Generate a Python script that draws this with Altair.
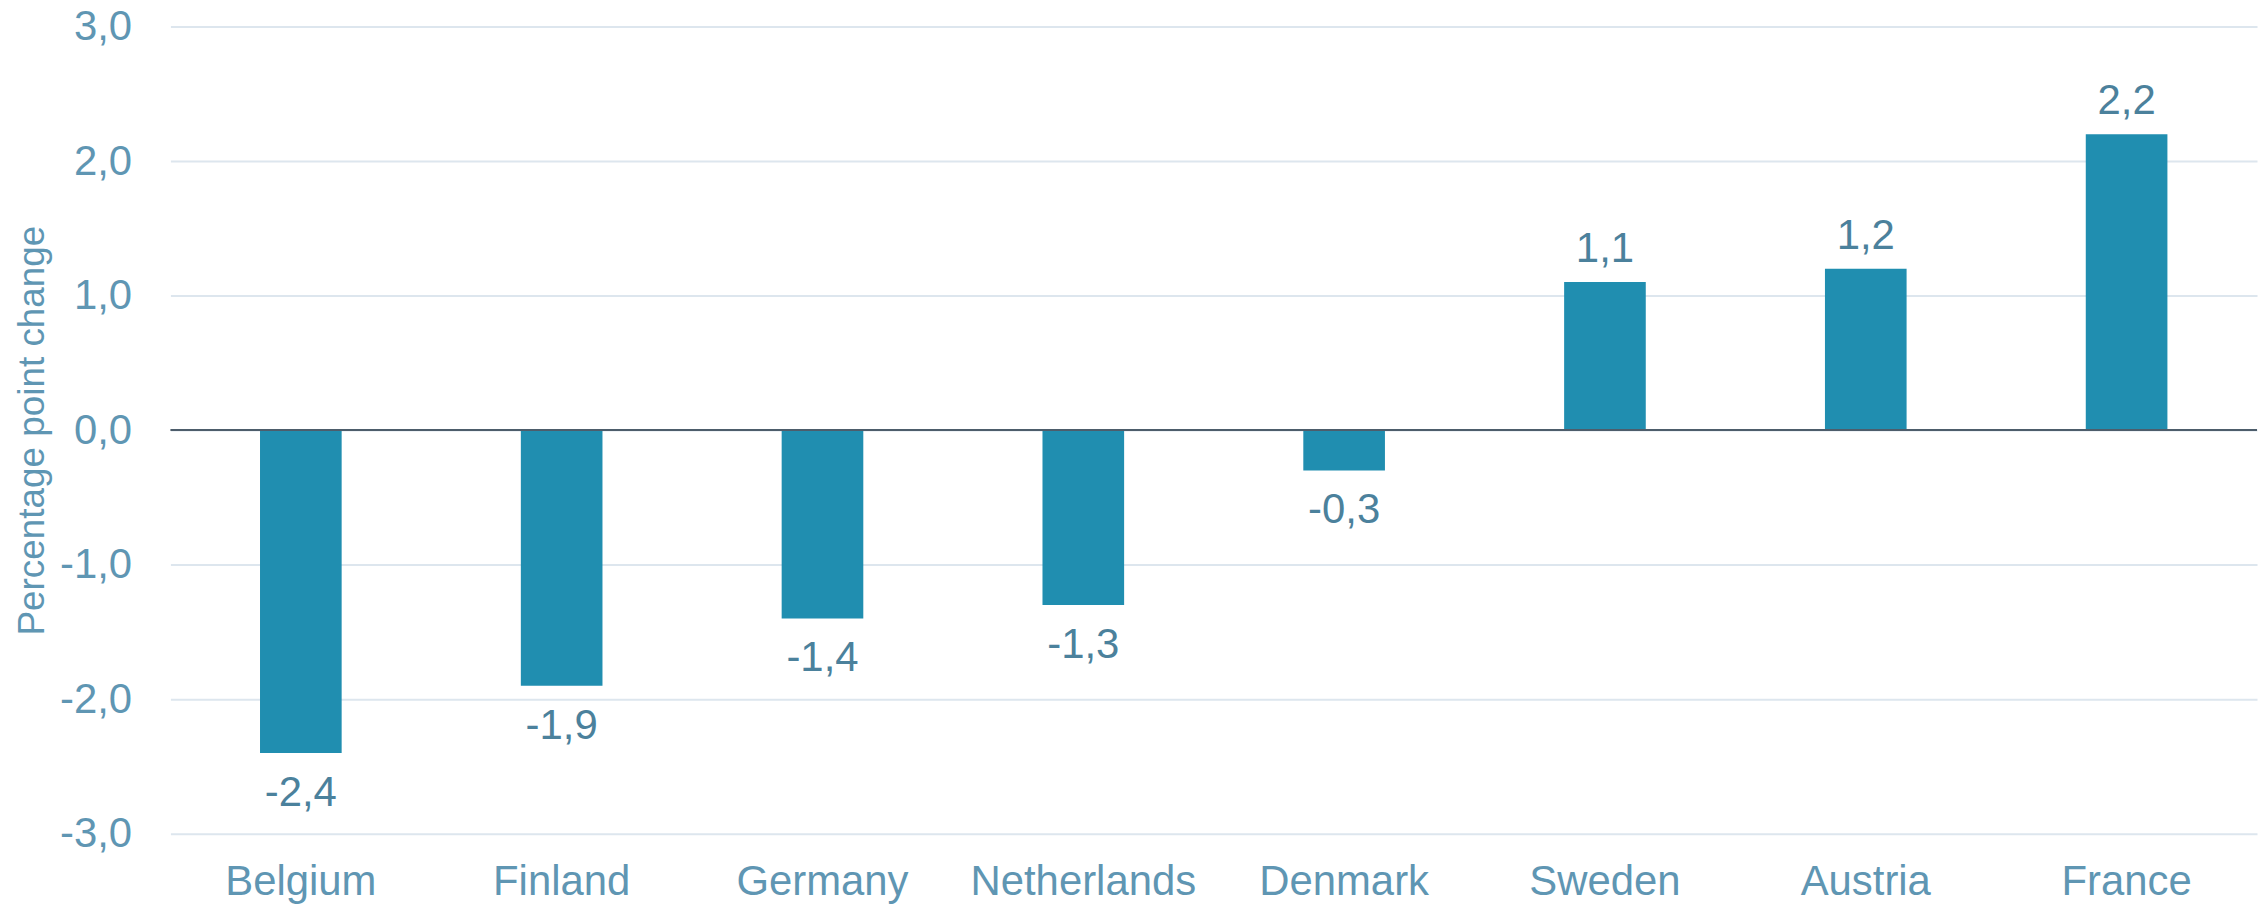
import altair as alt
import pandas as pd

countries = ["Belgium", "Finland", "Germany", "Netherlands", "Denmark", "Sweden", "Austria", "France"]
changes = [-2.4, -1.9, -1.4, -1.3, -0.3, 1.1, 1.2, 2.2]
y_ticks = [-3, -2, -1, 0, 1, 2, 3]

df = pd.DataFrame({"country": countries, "change": changes})

FONT = "Liberation Sans"
BAR = "#208eb0"
LABEL = "#4b819c"
AXIS = "#5f96b3"
GRID = "#dde6ee"
ZERO = "#4d5d6b"

FMT = "replace(replace(format({v}, '.1f'), '.', ','), '\u2212', '-')"

x = alt.X("country:N", sort=countries, title=None,
          scale=alt.Scale(paddingInner=0.687, paddingOuter=0.3435),
          axis=alt.Axis(labelFont=FONT, labelFontSize=42, labelColor=AXIS,
                        labelPadding=28, ticks=False, domain=False, labelAngle=0,
                        labelLimit=0, grid=False))
y = alt.Y("change:Q", title="Percentage point change",
          scale=alt.Scale(domain=[-3, 3], nice=False, zero=False),
          axis=alt.Axis(values=y_ticks,
                        labelExpr=FMT.format(v="datum.value"),
                        labelFont=FONT, labelFontSize=42, labelColor=AXIS,
                        labelPadding=39, ticks=False, domain=False,
                        gridColor=GRID, gridWidth=2,
                        titleFont=FONT,
                        titleFontSize=37, titleFontWeight="normal",
                        titleColor=AXIS, titleAngle=270,
                        titleAlign="center", titleBaseline="alphabetic",
                        titleX=-127, titleY=405))

base = alt.Chart(df).transform_calculate(
    lab=FMT.format(v="datum.change")
)

bars = base.mark_bar(color=BAR).encode(x=x, y=y, y2=alt.datum(0))

zero = alt.Chart(pd.DataFrame({"v": [0]})).mark_rule(color=ZERO, strokeWidth=2).encode(
    y=alt.Y("v:Q", scale=alt.Scale(domain=[-3, 3], nice=False, zero=False))
)

pos_lab = base.transform_filter("datum.change >= 0").mark_text(
    font=FONT, fontSize=42, color=LABEL, baseline="alphabetic", dy=-20
).encode(x=alt.X("country:N", sort=countries), y=alt.Y("change:Q"), text="lab:N")

neg_lab = base.transform_filter("datum.change < 0").mark_text(
    font=FONT, fontSize=42, color=LABEL, baseline="top", dy=20
).encode(x=alt.X("country:N", sort=countries), y=alt.Y("change:Q"), text="lab:N")

chart = alt.layer(bars, zero, pos_lab, neg_lab).properties(
    width=2094, height=810,
    background="white",
    autosize=alt.AutoSizeParams(type="none"),
    padding={"left": 163, "top": 17, "right": 2, "bottom": 72},
).configure_view(strokeWidth=0, stroke="transparent")

chart.save("out.html", embed_options={"renderer": "svg", "actions": False})
